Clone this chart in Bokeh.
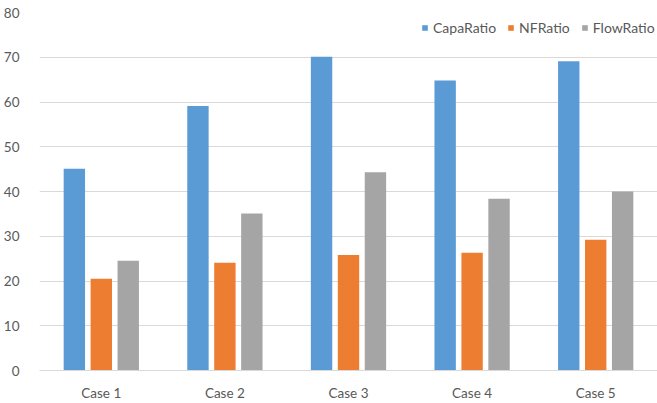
from bokeh.plotting import figure
from bokeh.models import ColumnDataSource, Range1d, FactorRange, Legend, LegendItem
from bokeh.transform import dodge
from bokeh.embed import file_html
from bokeh.resources import INLINE

cases = ["Case 1", "Case 2", "Case 3", "Case 4", "Case 5"]
capa_ratio = [45.1, 59.1, 70.1, 64.8, 69.1]
nf_ratio = [20.5, 24.1, 25.8, 26.3, 29.2]
flow_ratio = [24.5, 35.1, 44.3, 38.4, 40.0]
y_ticks = [0, 10, 20, 30, 40, 50, 60, 70, 80]

src = ColumnDataSource(dict(case=cases, capa=capa_ratio, nf=nf_ratio, flow=flow_ratio))

FONT = "Lato"
TXT = "#595959"

p = figure(width=657, height=403, x_range=FactorRange(*cases, range_padding=0),
           y_range=Range1d(0, 80), output_backend="svg", toolbar_location=None,
           min_border_left=38, min_border_right=0, min_border_top=12, min_border_bottom=32)
p.outline_line_color = None
p.background_fill_color = "white"
p.border_fill_color = "white"

bw = 0.173
off = 0.218
r1 = p.vbar(x=dodge("case", -off, range=p.x_range), top="capa", width=bw, source=src,
            fill_color="#5B9BD5", line_color=None)
r2 = p.vbar(x=dodge("case", 0, range=p.x_range), top="nf", width=bw, source=src,
            fill_color="#ED7D31", line_color=None)
r3 = p.vbar(x=dodge("case", off, range=p.x_range), top="flow", width=bw, source=src,
            fill_color="#A5A5A5", line_color=None)

p.yaxis.ticker = y_ticks
p.yaxis.axis_line_color = None
p.yaxis.major_tick_line_color = None
p.yaxis.minor_tick_line_color = None
p.yaxis.major_label_standoff = 14
p.yaxis.major_label_text_font = FONT
p.yaxis.major_label_text_font_size = "13.5px"
p.yaxis.major_label_text_color = TXT

p.xaxis.axis_line_color = "#D9D9D9"
p.xaxis.major_tick_line_color = None
p.xaxis.minor_tick_line_color = None
p.xaxis.major_label_standoff = 8
p.xaxis.major_label_text_font = FONT
p.xaxis.major_label_text_font_size = "13.5px"
p.xaxis.major_label_text_color = TXT

p.xgrid.grid_line_color = None
p.ygrid.grid_line_color = "#D9D9D9"
p.ygrid.ticker = y_ticks

legend = Legend(items=[LegendItem(label="CapaRatio", renderers=[r1]),
                       LegendItem(label="NFRatio", renderers=[r2]),
                       LegendItem(label="FlowRatio", renderers=[r3])],
                orientation="horizontal", location=(382, 334),
                glyph_width=7, glyph_height=7, label_standoff=5, spacing=11,
                padding=0, margin=0, border_line_color=None, background_fill_alpha=0,
                label_text_font=FONT, label_text_font_size="14px", label_text_color=TXT,
                label_height=16)
p.add_layout(legend, "center")

open("out.html", "w").write(file_html(p, INLINE))
